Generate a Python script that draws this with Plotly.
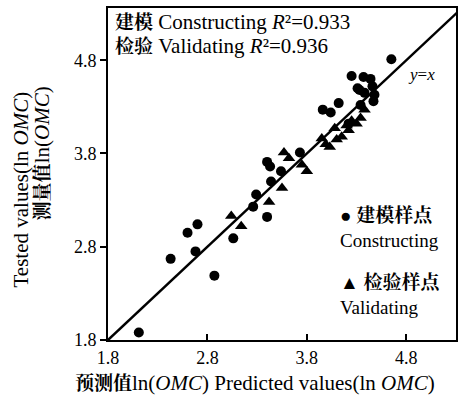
import plotly.graph_objects as go

# Constructing (modelling) samples: predicted vs tested ln(OMC)
cons_pred = [2.11, 2.43, 2.60, 2.70, 2.68, 2.87, 3.06, 3.26, 3.29, 3.40, 3.40, 3.43, 3.44,
             3.54, 3.73, 3.96, 4.04, 4.12, 4.25, 4.37, 4.44, 4.33, 4.46, 4.48, 4.38, 4.34,
             4.65, 4.47, 4.31, 4.22]
cons_test = [1.88, 2.67, 2.95, 3.04, 2.75, 2.49, 2.89, 3.23, 3.36, 3.12, 3.71, 3.66, 3.50,
             3.61, 3.81, 4.27, 4.24, 4.34, 4.63, 4.62, 4.60, 4.48, 4.52, 4.43, 4.45, 4.32,
             4.81, 4.36, 4.50, 4.12]

# Validating samples
val_pred = [3.04, 3.14, 3.42, 3.55, 3.57, 3.62, 3.75, 3.80, 3.95, 4.03, 4.08, 4.15, 4.20,
            4.25, 4.30, 4.34, 4.38, 4.10, 4.22, 3.99]
val_test = [3.13, 3.02, 3.28, 3.43, 3.81, 3.75, 3.68, 3.61, 3.96, 3.87, 4.07, 3.98, 4.10,
            4.15, 4.12, 4.18, 4.27, 3.95, 4.05, 3.90]

r2_cons = 0.933
r2_val = 0.936

ticks = [1.8, 2.8, 3.8, 4.8]
x_range = [1.8, 5.3]
y_range = [1.8, 5.36]

SERIF = "Liberation Serif, Noto Serif CJK SC, Noto Sans CJK SC, serif"
TXT = dict(family=SERIF, size=19, color="black")
BIG = dict(family=SERIF, size=21, color="black")


def cjk(s):
    """Bold Chinese run, kept a little smaller than the Latin text around it."""
    return f'<span style="font-size:19px"><b>{s}</b></span>'


fig = go.Figure()

# 1:1 reference line
fig.add_trace(go.Scatter(x=[x_range[0], y_range[1]], y=[x_range[0], y_range[1]],
                         mode="lines", line=dict(color="black", width=2.5),
                         showlegend=False, hoverinfo="skip", cliponaxis=True))

fig.add_trace(go.Scatter(x=cons_pred, y=cons_test, mode="markers",
                         marker=dict(symbol="circle", size=10, color="black"),
                         showlegend=False))
fig.add_trace(go.Scatter(x=val_pred, y=val_test, mode="markers",
                         marker=dict(symbol="triangle-up", size=11, color="black"),
                         showlegend=False))

axis_common = dict(showgrid=False, zeroline=False, showline=True, linecolor="black",
                   linewidth=2, mirror=True, tickvals=ticks,
                   ticktext=[f"{t:.1f}" for t in ticks],
                   tickfont=dict(family=SERIF, size=18, color="black"),
                   tickcolor="black", tickwidth=1.5, ticklen=6)

fig.update_xaxes(range=x_range, ticks="inside", **axis_common)
fig.update_yaxes(range=y_range, ticks="outside", **axis_common)

plot_w = 459 - 108 - 1
plot_h = 397 - 8 - 57


def py(pix):
    """Paper y for a pixel row of the page."""
    return (340 - pix) / plot_h


annotations = [
    dict(x=0.015, y=py(22), xref="paper", yref="paper", xanchor="left", yanchor="middle",
         showarrow=False,
         text=f"{cjk('建模')} Constructing <i>R</i>²={r2_cons:.3f}", font=BIG),
    dict(x=0.015, y=py(46), xref="paper", yref="paper", xanchor="left", yanchor="middle",
         showarrow=False,
         text=f"{cjk('检验')} Validating <i>R</i>²={r2_val:.3f}", font=BIG),
    dict(x=4.95, y=4.65, xref="x", yref="y", xanchor="center", yanchor="middle",
         showarrow=False, text="<i>y</i>=<i>x</i>",
         font=dict(family=SERIF, size=17, color="black")),
    dict(x=0.66, y=0.336, xref="paper", yref="paper", xanchor="left", yanchor="middle",
         showarrow=False, align="left",
         text="● <b>建模样点</b><br>Constructing", font=TXT),
    dict(x=0.66, y=0.137, xref="paper", yref="paper", xanchor="left", yanchor="middle",
         showarrow=False, align="left",
         text="▲ <b>检验样点</b><br>Validating", font=TXT),
    # axis titles, positioned relative to the plot area
    dict(x=(256 - 108) / plot_w, y=py(383), xref="paper", yref="paper",
         xanchor="center", yanchor="middle", showarrow=False,
         text=f"{cjk('预测值')}ln(<i>OMC</i>) Predicted values(ln <i>OMC</i>)", font=BIG),
    dict(x=-(108 - 20) / plot_w, y=py(190), xref="paper", yref="paper",
         xanchor="center", yanchor="middle", showarrow=False, textangle=-90,
         text="Tested values(ln <i>OMC</i>)", font=BIG),
    dict(x=-(108 - 42) / plot_w, y=py(153), xref="paper", yref="paper",
         xanchor="center", yanchor="middle", showarrow=False, textangle=-90,
         text=f"{cjk('测量值')}ln(<i>OMC</i>)", font=BIG),
]

fig.update_layout(
    width=459, height=397,
    margin=dict(l=108, r=1, t=8, b=57),
    paper_bgcolor="white", plot_bgcolor="white",
    font=dict(family=SERIF, color="black"),
    annotations=annotations,
)

fig.write_html("out.html")
